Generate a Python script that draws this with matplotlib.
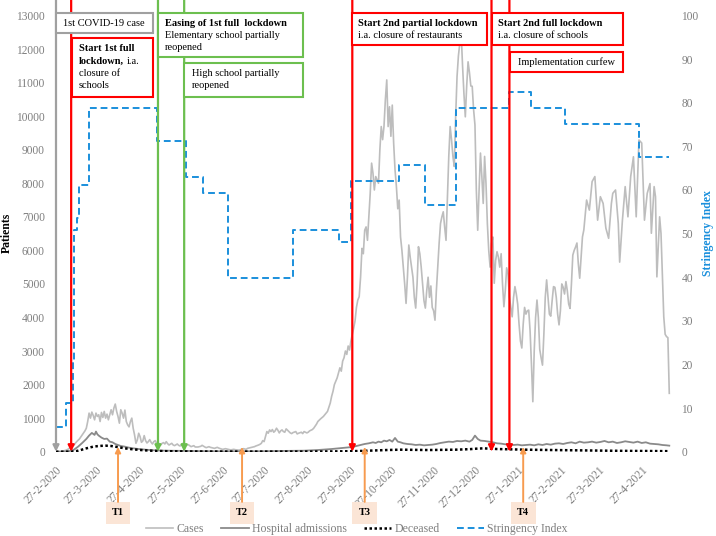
import matplotlib
matplotlib.use('Agg')
import matplotlib.pyplot as plt
from matplotlib.patches import Rectangle
import pandas as pd

plt.rcParams['font.family'] = ['Liberation Serif', 'DejaVu Serif']

# ---------------- data ----------------
start_date = pd.Timestamp('2020-02-27')
tick_labels = ['27-2-2020', '27-3-2020', '27-4-2020', '27-5-2020', '27-6-2020', '27-7-2020',
               '27-8-2020', '27-9-2020', '27-10-2020', '27-11-2020', '27-12-2020', '27-1-2021',
               '27-2-2021', '27-3-2021', '27-4-2021']

cases_day = [0, 4, 7, 9, 11, 13, 15, 17, 19, 21, 22, 23, 24, 25, 26, 27, 28, 29, 30, 31, 32, 33, 34, 35, 36, 37, 38, 39,
             40, 41, 42, 43, 44, 45, 46, 47, 48, 49, 50, 51, 52, 53, 54, 55, 56, 57, 58, 59, 60, 61, 62, 63, 64, 65, 66,
             67, 68, 69, 70, 71, 72, 73, 74, 75, 76, 77, 78, 79, 80, 81, 82, 84, 85, 86, 88, 89, 90, 92, 93, 94, 96, 98,
             100, 101, 103, 105, 106, 108, 109, 111, 112, 114, 115, 117, 118, 120, 121, 123, 124, 126, 127, 129, 130,
             132, 133, 135, 136, 138, 139, 141, 142, 144, 145, 147, 148, 149, 150, 151, 152, 153, 154, 155, 156, 157,
             158, 159, 160, 161, 162, 163, 164, 165, 166, 167, 168, 169, 170, 171, 172, 174, 175, 176, 178, 179, 180,
             182, 183, 184, 186, 187, 188, 189, 190, 191, 192, 194, 196, 197, 199, 200, 201, 202, 203, 204, 205, 206,
             207, 208, 209, 210, 211, 212, 213, 214, 215, 216, 217, 218, 219, 220, 221, 222, 223, 224, 225, 226, 227,
             228, 229, 230, 231, 232, 233, 234, 235, 236, 237, 238, 239, 240, 241, 242, 243, 244, 245, 246, 247, 248,
             249, 250, 251, 252, 253, 254, 255, 256, 257, 258, 259, 260, 261, 262, 263, 264, 265, 266, 267, 268, 269,
             270, 271, 272, 273, 274, 275, 276, 277, 278, 279, 280, 281, 282, 283, 284, 285, 286, 287, 288, 289, 290,
             291, 292, 293, 294, 295, 296, 297, 298, 299, 300, 301, 302, 303, 304, 305, 306, 307, 308, 309, 310, 311,
             312, 313, 314, 315, 316, 317, 318, 319, 320, 321, 322, 323, 324, 325, 326, 327, 328, 329, 330, 331, 332,
             333, 334, 335, 336, 337, 338, 339, 340, 341, 342, 343, 344, 345, 346, 347, 348, 349, 350, 351, 352, 353,
             354, 355, 356, 357, 358, 359, 360, 361, 362, 363, 364, 365, 366, 367, 368, 369, 370, 371, 372, 373, 374,
             375, 376, 377, 378, 379, 380, 381, 382, 383, 385, 387, 389, 391, 393, 395, 397, 399, 401, 403, 404, 406,
             408, 409, 411, 413, 415, 417, 419, 421, 423, 425, 427, 429, 431, 432, 434, 435, 436, 438, 439, 441, 442,
             443, 444, 445]
cases_val = [0, 10, 40, 80, 150, 200, 300, 380, 500, 620, 700, 900, 1150, 1000, 1180, 1080, 950, 1150, 1050, 1100, 900,
             1170, 1020, 1200, 1000, 1120, 950, 1100, 1250, 1100, 1300, 1420, 1200, 1050, 850, 1250, 1150, 1000, 1240,
             900, 800, 740, 900, 1000, 700, 500, 250, 350, 550, 450, 280, 320, 480, 330, 260, 300, 360, 280, 230, 300,
             330, 250, 280, 220, 200, 250, 270, 230, 300, 240, 200, 250, 200, 180, 230, 190, 170, 250, 200, 190, 210,
             150, 180, 140, 140, 160, 190, 140, 120, 150, 130, 110, 100, 130, 110, 80, 70, 90, 80, 60, 55, 70, 60, 50,
             45, 80, 90, 70, 100, 120, 130, 150, 170, 200, 220, 250, 330, 300, 450, 600, 550, 650, 600, 660, 580, 620,
             700, 640, 560, 620, 650, 600, 580, 680, 640, 600, 560, 540, 570, 600, 530, 550, 580, 540, 600, 560, 580,
             620, 660, 700, 760, 820, 900, 940, 980, 1050, 1150, 1200, 1450, 1650, 1800, 2000, 2100, 2200, 2350, 2500,
             2400, 2700, 2800, 3000, 2900, 3150, 3030, 3300, 3500, 3680, 3900, 4300, 4520, 4620, 5200, 6060, 5900,
             6600, 6700, 6300, 7000, 7700, 8600, 8300, 7800, 8200, 8100, 8000, 9000, 9690, 9300, 9700, 10500, 11080,
             9690, 10280, 9400, 10330, 9200, 8400, 7900, 7240, 7500, 6400, 6000, 5510, 5000, 4420, 5200, 6160, 5800,
             5500, 5200, 4600, 4280, 5000, 6110, 5900, 5500, 5000, 4500, 4280, 4800, 5200, 4600, 4940, 4300, 4200,
             3920, 4800, 5500, 6210, 6800, 7000, 7150, 6700, 6300, 7600, 8800, 9690, 9300, 8800, 8500, 10000, 11180,
             11800, 12170, 12470, 11500, 10670, 9980, 10900, 11620, 11300, 10900, 10890, 10200, 9740, 7800, 6600,
             7800, 8900, 8200, 7400, 8800, 8000, 6800, 6000, 5500, 6200, 6400, 5020, 5700, 5960, 5800, 5500, 5900,
             5000, 4320, 4800, 5480, 5300, 4600, 4300, 4020, 4600, 4920, 4700, 4400, 3800, 3300, 3090, 3800, 4300,
             4100, 4200, 4220, 3600, 2600, 1490, 3000, 4000, 4520, 4000, 3050, 2800, 2580, 3500, 4600, 5120, 4600,
             4100, 4040, 4500, 4920, 4900, 4600, 4100, 3780, 4200, 5000, 4900, 4700, 5070, 4800, 4400, 4270, 5000,
             5860, 6000, 6100, 6220, 5600, 5170, 5800, 6400, 6610, 7500, 7200, 8050, 8200, 6900, 7600, 7400, 6660,
             6360, 7400, 7700, 7800, 6800, 5650, 6900, 7900, 7000, 8200, 8790, 7000, 9290, 9200, 6900, 7700, 7990,
             6510, 7900, 7600, 5210, 7000, 6500, 4020, 3500, 3430, 3400, 1740]

hosp_day = [0, 5, 10, 13, 16, 19, 22, 24, 26, 28, 29, 30, 31, 33, 35, 37, 39, 41, 43, 45, 47, 50, 53, 56, 60, 65, 70,
            75, 80, 90, 100, 110, 120, 130, 140, 150, 160, 170, 180, 190, 200, 205, 210, 215, 218, 221, 224, 227, 230,
            232, 234, 236, 238, 240, 242, 244, 246, 248, 250, 252, 255, 258, 261, 264, 267, 270, 273, 276, 279, 282,
            285, 288, 291, 294, 297, 300, 302, 304, 306, 308, 311, 314, 317, 320, 323, 326, 329, 332, 335, 338, 341,
            344, 347, 350, 353, 356, 359, 362, 365, 368, 371, 374, 377, 380, 383, 386, 389, 392, 395, 398, 401, 404,
            407, 410, 413, 416, 419, 422, 425, 428, 431, 434, 437, 440, 443, 445]
hosp_val = [0, 2, 20, 60, 150, 260, 380, 480, 560, 500, 600, 520, 480, 420, 380, 390, 300, 280, 230, 200, 170, 150, 120,
            100, 80, 60, 45, 35, 30, 25, 20, 15, 12, 10, 12, 15, 20, 25, 30, 50, 80, 100, 120, 140, 170, 200, 230, 250,
            280, 260, 300, 280, 330, 310, 350, 300, 410, 300, 280, 250, 230, 220, 200, 210, 190, 200, 210, 230, 260,
            280, 300, 290, 320, 310, 330, 300, 350, 480, 380, 330, 320, 300, 280, 250, 240, 220, 230, 200, 210, 190,
            200, 210, 190, 220, 200, 230, 210, 240, 250, 230, 260, 280, 250, 300, 270, 280, 300, 270, 290, 320, 280,
            300, 260, 280, 310, 290, 270, 300, 260, 280, 240, 230, 220, 200, 190, 180]

dec_day = [0, 8, 12, 15, 18, 21, 24, 27, 30, 33, 36, 38, 40, 43, 46, 50, 55, 60, 65, 70, 75, 80, 90, 100, 120, 150,
           180, 200, 210, 220, 230, 240, 250, 260, 270, 280, 290, 300, 305, 310, 315, 320, 330, 340, 350, 360, 370,
           380, 390, 400, 410, 420, 430, 445]
dec_val = [0, 0, 5, 20, 50, 90, 120, 150, 165, 175, 180, 175, 170, 150, 130, 100, 75, 55, 40, 28, 20, 15, 10, 7, 4, 3,
           4, 8, 12, 20, 35, 50, 60, 55, 50, 55, 60, 75, 90, 100, 90, 80, 70, 60, 55, 50, 45, 40, 35, 30, 25, 22, 20, 15]

string_day = [0, 7, 12, 13, 15, 17, 24, 73, 94, 107, 125, 172, 205, 214, 249, 268, 290, 329, 345, 369, 423, 445]
string_val = [5.6, 11.2, 20.4, 50.8, 53.6, 61.1, 78.7, 71.3, 63.0, 59.4, 39.9, 50.8, 48.1, 62.0, 65.7, 56.5, 78.7,
              82.5, 78.7, 75.1, 67.6, 67.6]

event_day = [0, 11, 74, 93, 215, 316, 329]
event_kind = ['first', 'lockdown', 'easing', 'easing', 'lockdown', 'lockdown', 'lockdown']
t_day = [45, 135, 224, 339]
t_labels = ['T1', 'T2', 'T3', 'T4']

# ---------------- figure ----------------
W, H = 716, 536
fig = plt.figure(figsize=(W / 100, H / 100), dpi=100)
ax = fig.add_axes([56 / W, 1 - 451.7 / H, (673 - 56) / W, 436.2 / H])
ax2 = ax.twinx()

gray_txt = '#7f7f7f'
blue = '#1a8fdc'
kind_color = {'first': '#a0a0a0', 'lockdown': '#ff0000', 'easing': '#6cbf4f'}

ax.plot(cases_day, cases_val, color='#bdbdbd', lw=1.2, label='Cases', zorder=2)
ax.plot(hosp_day, hosp_val, color='#8a8a8a', lw=1.3, label='Hospital admissions', zorder=3)
ax.plot(dec_day, dec_val, color='black', lw=1.8, ls=(0, (1, 1)), label='Deceased', zorder=4)
ax2.step(string_day, string_val, where='post', color=blue, lw=1.4, ls=(0, (3.5, 2)), label='Stringency Index')

xmax = 447.7
ax.set_xlim(0, xmax)
ax.set_ylim(0, 13000)
ax2.set_ylim(0, 100)

tick_days = [(pd.to_datetime(t, format='%d-%m-%Y') - start_date).days for t in tick_labels]
ax.set_xticks(tick_days)
ax.set_xticklabels(tick_labels, rotation=45, ha='right', rotation_mode='anchor', fontsize=8.3, color=gray_txt)
ax.tick_params(axis='x', length=0, pad=9)
ax.set_yticks(range(0, 13001, 1000))
ax.tick_params(axis='y', length=0, pad=8, labelsize=8.3, labelcolor=gray_txt)
ax2.set_yticks(range(0, 101, 10))
ax2.tick_params(axis='y', length=0, pad=6, labelsize=8.3, labelcolor=gray_txt)
for a in (ax, ax2):
    for s in a.spines.values():
        s.set_visible(False)

fig.text(7 / W, 1 - 233 / H, 'Patients', rotation=90, ha='center', va='center', fontsize=8.5, weight='bold')
fig.text(708 / W, 1 - 233 / H, 'Stringency Index', rotation=90, ha='center', va='center', fontsize=8.5,
         weight='bold', color=blue)

# event arrows (full height, arrow head at bottom)
trans = ax2.get_xaxis_transform()
top_frac = 451.7 / 436.2
for d, k in zip(event_day, event_kind):
    ax2.annotate('', xy=(d, 0), xycoords=trans, xytext=(d, top_frac), textcoords=trans,
                 arrowprops=dict(arrowstyle='-|>', color=kind_color[k], lw=1.6, shrinkA=0, shrinkB=0,
                                 mutation_scale=9),
                 annotation_clip=False, zorder=6)

# T markers
for d, lab in zip(t_day, t_labels):
    ax2.annotate('', xy=(d, 0.011), xycoords=trans, xytext=(d, -0.115), textcoords=trans,
                 arrowprops=dict(arrowstyle='-|>', color='#f79b4f', lw=1.4, shrinkA=0, shrinkB=0,
                                 mutation_scale=8),
                 annotation_clip=False, zorder=6)
    ax2.text(d, -0.1405, lab, transform=trans, ha='center', va='center', fontsize=7.5, weight='bold',
             bbox=dict(boxstyle='square,pad=0.6', fc='#fbe5d6', ec='none'), clip_on=False)


# annotation boxes (figure pixel layout)
def box(x0, y0, x1, y1, ec):
    fig.add_artist(Rectangle((x0 / W, 1 - y1 / H), (x1 - x0) / W, (y1 - y0) / H, transform=fig.transFigure,
                             fc='white', ec=ec, lw=1.5, zorder=1))


def txt(x, y, s, bold=False):
    return fig.text(x / W, 1 - y / H, s, ha='left', va='center', fontsize=7.5,
                    weight='bold' if bold else 'normal', zorder=3)


box(56, 13, 153, 33, kind_color['first'])
txt(63, 23.5, '1st COVID-19 case')

box(72, 38, 153, 97, kind_color['lockdown'])
txt(79, 48.5, 'Start 1st full', True)
t_lock = txt(79, 61, 'lockdown,', True)
fig.canvas.draw()
bb = t_lock.get_window_extent(renderer=fig.canvas.get_renderer())
txt(bb.x1 + 3, 61, 'i.a.')
txt(79, 73.5, 'closure of')
txt(79, 86, 'schools')

box(158, 12.7, 303, 57, kind_color['easing'])
txt(165, 23, 'Easing of 1st full  lockdown', True)
txt(165, 35.5, 'Elementary school partially')
txt(165, 48, 'reopened')

box(184, 63, 303, 97, kind_color['easing'])
txt(191.5, 73.5, 'High school partially')
txt(191.5, 86, 'reopened')

box(352, 12.7, 487, 45, kind_color['lockdown'])
txt(358.5, 23.5, 'Start 2nd partial lockdown', True)
txt(358.5, 35.5, 'i.a. closure of restaurants')

box(492, 12.7, 623, 45, kind_color['lockdown'])
txt(498.5, 23.5, 'Start 2nd full lockdown', True)
txt(498.5, 35.5, 'i.a. closure of schools')

box(510, 52, 623, 72, kind_color['lockdown'])
txt(517.5, 62, 'Implementation curfew')

# legend
h1, l1 = ax.get_legend_handles_labels()
h2, l2 = ax2.get_legend_handles_labels()
leg = fig.legend(h1 + h2, l1 + l2, loc='center', bbox_to_anchor=(357 / W, 1 - 529 / H), ncol=4, frameon=False,
                 fontsize=8.5, handlelength=2.3, handletextpad=0.25, columnspacing=1.5, borderpad=0,
                 labelcolor=gray_txt)

fig.savefig('out.png', dpi=100)
